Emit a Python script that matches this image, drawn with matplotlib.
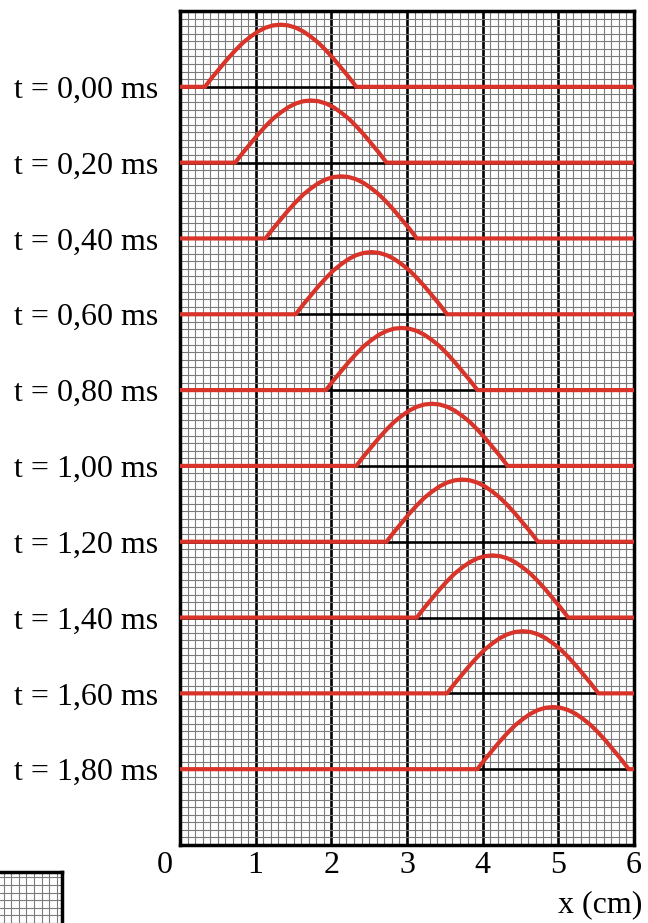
import numpy as np
import matplotlib.pyplot as plt
import matplotlib.transforms as mtrans
from matplotlib.ticker import MultipleLocator

plt.rcParams['font.family'] = ['Liberation Serif', 'DejaVu Serif']

# instants (labels) and the baseline each pulse sits on
time_labels = ["0,00", "0,20", "0,40", "0,60", "0,80",
               "1,00", "1,20", "1,40", "1,60", "1,80"]
baselines = [10, 9, 8, 7, 6, 5, 4, 3, 2, 1]
# left foot of each pulse (cm)
pulse_start = [0.33, 0.73, 1.13, 1.53, 1.93, 2.33, 2.73, 3.13, 3.53, 3.93]
# pulse profile: offset from the left foot (cm) and height (grid units)
pulse_dx = [0.0, 0.1, 0.2, 0.3, 0.4, 0.5, 0.6, 0.7, 0.8, 0.9, 1.0,
            1.1, 1.2, 1.3, 1.4, 1.5, 1.6, 1.7, 1.8, 1.9, 2.0]
pulse_h = [0.0, 0.13, 0.25, 0.37, 0.48, 0.58, 0.66, 0.73, 0.78, 0.81, 0.82,
           0.81, 0.78, 0.73, 0.66, 0.58, 0.48, 0.37, 0.25, 0.13, 0.0]
x_ticks = [0, 1, 2, 3, 4, 5, 6]

RED = "#d8342a"
GRID = "#7a7a7a"

fig = plt.figure(figsize=(6.48, 9.23), dpi=100)
ax = fig.add_axes([180 / 648, 1 - 845 / 923, 454 / 648, 834 / 923])
ax.set_xlim(0, 6)
ax.set_ylim(0, 11)

# millimetre paper
ax.xaxis.set_minor_locator(MultipleLocator(0.1))
ax.yaxis.set_minor_locator(MultipleLocator(0.1))
ax.grid(which="minor", color=GRID, lw=0.8, zorder=0)
ax.set_xticks(x_ticks)
ax.set_yticks(baselines)
ax.grid(which="major", color="black", lw=1.9, zorder=1)
ax.set_axisbelow(True)
for s in ax.spines.values():
    s.set_linewidth(2.5)
ax.tick_params(which="both", length=0)

ax.set_xticklabels([str(v) for v in x_ticks], fontsize=23)
ax.tick_params(axis="x", pad=4)
lab0 = ax.get_xticklabels()[0]
lab0.set_horizontalalignment("right")
lab0.set_transform(lab0.get_transform() +
                   mtrans.ScaledTranslation(-7 / 100, 0, fig.dpi_scale_trans))
ax.set_yticklabels(["t = %s ms" % t for t in time_labels], fontsize=23)
ax.tick_params(axis="y", pad=16)

for y0, x0 in zip(baselines, pulse_start):
    xs = [0] + [x0 + d for d in pulse_dx] + [6]
    ys = [y0] + [y0 + h for h in pulse_h] + [y0]
    ax.plot(xs, ys, color=RED, lw=3.0, solid_joinstyle="round",
            solid_capstyle="butt", zorder=5, clip_on=False)

fig.text(642 / 648, 1 - 905 / 923, "x (cm)", ha="right", va="center",
         fontsize=23)

# scale square in the lower left corner
lg = fig.add_axes([0, 0, 62 / 648, 51 / 923])
lg.set_xlim(-0.05, 0.77)
lg.set_ylim(-0.1, 0.57)
lg.xaxis.set_minor_locator(MultipleLocator(0.1))
lg.yaxis.set_minor_locator(MultipleLocator(0.1))
lg.set_xticks([])
lg.set_yticks([])
lg.grid(which="minor", color=GRID, lw=0.8)
lg.tick_params(which="both", length=0, labelbottom=False, labelleft=False)
lg.spines["left"].set_visible(False)
lg.spines["bottom"].set_visible(False)
lg.spines["top"].set_linewidth(2.5)
lg.spines["right"].set_linewidth(2.5)

fig.savefig("out.png", dpi=100)
